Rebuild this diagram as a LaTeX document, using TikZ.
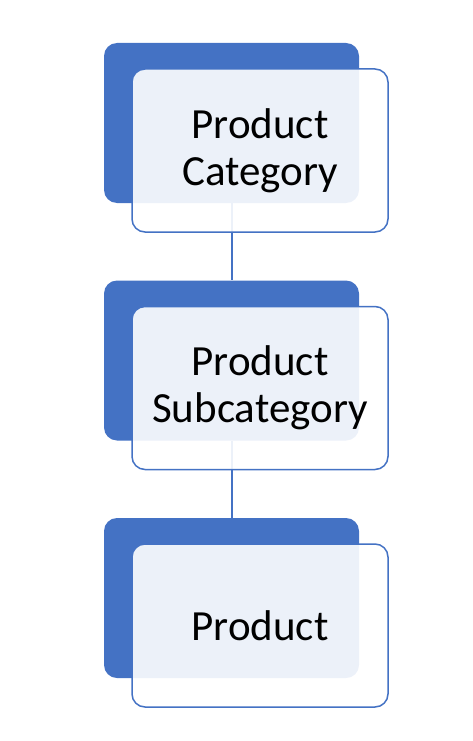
\documentclass[tikz,border=0pt]{standalone}
\usepackage{fontspec}
\setmainfont{Carlito}
\definecolor{acc}{HTML}{4472C4}
\tikzset{
  darkbox/.style={fill=acc, draw=none, rounded corners=13pt, minimum width=255pt, minimum height=160pt, inner sep=0pt},
  lightbox/.style={fill=white, fill opacity=0.9, text opacity=1, draw=acc, line width=1.5pt, rounded corners=13pt, minimum width=256pt, minimum height=163pt, inner sep=0pt, align=center, font=\fontsize{43}{47}\selectfont},
  conn/.style={draw=acc, line width=2pt}
}
\begin{document}
\begin{tikzpicture}[x=1pt,y=-1pt]
\useasboundingbox (0,0) rectangle (473,741);
\node[darkbox] (d1) at (231.5,123) {};
\node[darkbox] (d2) at (231.5,360.5) {};
\node[darkbox] (d3) at (231.5,598) {};
\draw[conn] (d1.south) -- (d2.north);
\draw[conn] (d2.south) -- (d3.north);
\node[lightbox] (l1) at (260,150.5) {Product\\Category};
\node[lightbox] (l2) at (260,388) {Product\\Subcategory};
\node[lightbox] (l3) at (260,625.5) {Product};
\end{tikzpicture}
\end{document}
